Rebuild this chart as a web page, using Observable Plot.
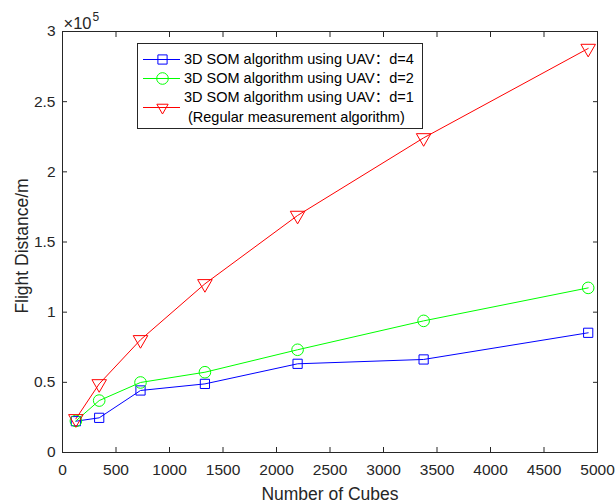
<!DOCTYPE html>
<html>
<head>
<meta charset="utf-8">
<script src="https://cdn.jsdelivr.net/npm/d3@7"></script>
<script src="https://cdn.jsdelivr.net/npm/@observablehq/plot@0.6"></script>
<style>
  html, body { margin: 0; padding: 0; background: white; }
  #wrap { position: relative; width: 616px; height: 503px; }
  #legend {
    position: absolute; left: 137px; top: 43px; width: 286px; height: 86px;
    border: 1px solid #262626; background: white; box-sizing: border-box;
    font-family: "Liberation Sans", Arial, "Noto Sans CJK SC", sans-serif; font-size: 14.5px; color: #000;
    line-height: 17px;
  }
  .row { position: absolute; left: 0; }
  .row svg { position: absolute; left: 0; top: 0; }
  .row span { position: absolute; left: 46px; white-space: nowrap; }
</style>
</head>
<body>
<div id="wrap"></div>
<script>
const cubes = [125, 343, 729, 1331, 2197, 3375, 4913];
const seriesD4 = [22300, 24700, 44200, 48900, 63200, 66300, 85300];
const seriesD2 = [22500, 37000, 49900, 57200, 73200, 93800, 117300];
const seriesD1 = [24000, 48900, 80300, 120200, 168900, 224200, 287900];
const seriesNames = ["3D SOM algorithm using UAV：d=4", "3D SOM algorithm using UAV：d=2", "3D SOM algorithm using UAV：d=1"];
const seriesSub = "(Regular measurement algorithm)";
const seriesColors = ["#0000FF", "#00FF00", "#FF0000"];
const xTicks = [0, 500, 1000, 1500, 2000, 2500, 3000, 3500, 4000, 4500, 5000];
const yTicks = [0, 50000, 100000, 150000, 200000, 250000, 300000];
const xLabel = "Number of Cubes";
const yLabel = "Flight Distance/m";

const allSeries = [seriesD4, seriesD2, seriesD1];
const data = allSeries.flatMap((vals, i) => vals.map((v, j) => ({series: seriesNames[i], x: cubes[j], y: v})));
const colorOf = Object.fromEntries(seriesNames.map((s, i) => [s, seriesColors[i]]));

const axisColor = "#262626";
const font = "'Liberation Sans', Arial, sans-serif";

const chart = Plot.plot({
  width: 616, height: 503,
  marginLeft: 62, marginRight: 19, marginTop: 31, marginBottom: 51,
  style: {fontFamily: font, fontSize: "15.5px", color: axisColor, background: "white", overflow: "visible"},
  x: {domain: [0, 5000]},
  y: {domain: [0, 300000]},
  marks: [
    Plot.frame({stroke: axisColor, strokeWidth: 1}),
    Plot.axisX({ticks: xTicks, tickSize: -5, tickPadding: 16, tickFormat: d => String(d), label: null, stroke: axisColor, fill: axisColor}),
    Plot.axisX({anchor: "top", ticks: xTicks, tickSize: -5, tickFormat: () => "", label: null, stroke: axisColor}),
    Plot.axisY({ticks: yTicks, tickSize: -5, tickPadding: 12, tickFormat: d => String(d / 1e5), label: null, stroke: axisColor, fill: axisColor}),
    Plot.axisY({anchor: "right", ticks: yTicks, tickSize: -5, tickFormat: () => "", label: null, stroke: axisColor}),
    Plot.text([xLabel], {frameAnchor: "bottom", dy: 47, lineAnchor: "bottom", fontSize: 17.5, fill: axisColor}),
    Plot.text([yLabel], {frameAnchor: "left", dx: -40, dy: 4, rotate: -90, textAnchor: "middle", lineAnchor: "middle", fontSize: 17.5, fill: axisColor}),
    Plot.text(["×10"], {frameAnchor: "top-left", dx: 1, dy: -3, textAnchor: "start", lineAnchor: "bottom", fontSize: 16.5, fill: axisColor}),
    Plot.text(["5"], {frameAnchor: "top-left", dx: 30, dy: -11, textAnchor: "start", lineAnchor: "bottom", fontSize: 12, fill: axisColor}),
    Plot.line(data, {x: "x", y: "y", z: "series", stroke: d => colorOf[d.series], strokeWidth: 1}),
    Plot.dot(data.filter(d => d.series === seriesNames[0]), {x: "x", y: "y", symbol: "square", r: 5.2, stroke: seriesColors[0], strokeWidth: 1, fill: "none"}),
    Plot.dot(data.filter(d => d.series === seriesNames[1]), {x: "x", y: "y", symbol: "circle", r: 5.8, stroke: seriesColors[1], strokeWidth: 1, fill: "none"}),
    Plot.dot(data.filter(d => d.series === seriesNames[2]), {x: "x", y: "y", symbol: "triangle", rotate: 180, r: 5.4, stroke: seriesColors[2], strokeWidth: 1, fill: "none"})
  ]
});

const wrap = document.getElementById("wrap");
wrap.appendChild(chart);

// legend
const legend = document.createElement("div");
legend.id = "legend";
const rowTops = [7, 26, 45];
const lineYs = [8.5, 8.5, 18.5];
seriesNames.forEach((name, i) => {
  const row = document.createElement("div");
  row.className = "row";
  row.style.top = rowTops[i] + "px";
  const h = i === 2 ? 40 : 20;
  const svg = d3.create("svg").attr("width", 46).attr("height", h);
  svg.append("line").attr("x1", 5).attr("x2", 42).attr("y1", lineYs[i]).attr("y2", lineYs[i])
    .attr("stroke", seriesColors[i]).attr("stroke-width", 1);
  const symType = [d3.symbolSquare, d3.symbolCircle, d3.symbolTriangle2][i];
  const size = [5.2, 5.8, 5.4][i];
  svg.append("path").attr("d", d3.symbol(symType, size * size * Math.PI)())
    .attr("transform", `translate(24.5,${lineYs[i]})` + (i === 2 ? " rotate(180)" : ""))
    .attr("fill", "none").attr("stroke", seriesColors[i]).attr("stroke-width", 1);
  row.appendChild(svg.node());
  const span = document.createElement("span");
  span.style.top = "0px";
  span.textContent = name;
  row.appendChild(span);
  if (i === 2) {
    const sub = document.createElement("span");
    sub.style.top = "19.5px";
    sub.style.left = "50px";
    sub.textContent = seriesSub;
    row.appendChild(sub);
  }
  legend.appendChild(row);
});
wrap.appendChild(legend);
</script>
</body>
</html>
